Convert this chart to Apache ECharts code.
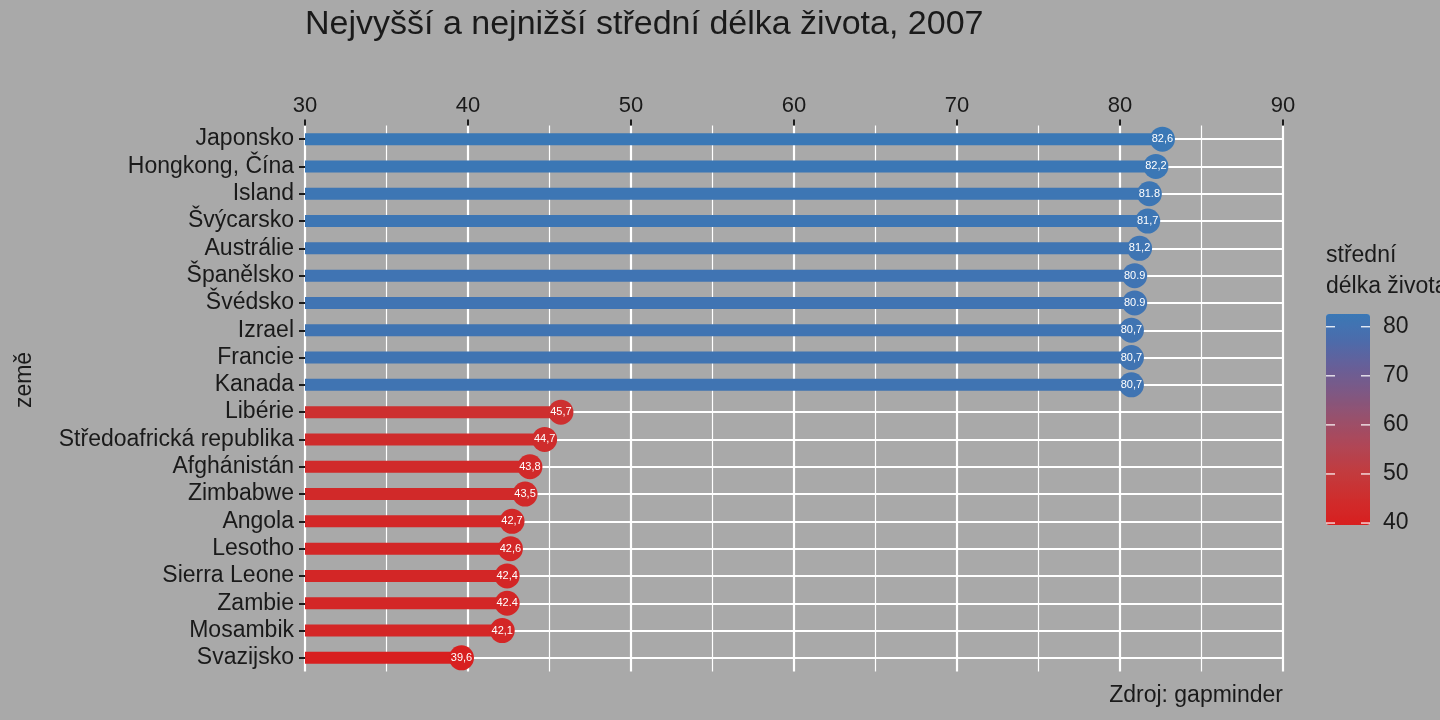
<!DOCTYPE html>
<html lang="cs">
<head>
  <meta charset="UTF-8">
  <title>Nejvyšší a nejnižší střední délka života, 2007</title>
</head>
<body>
<div id="chart"></div>
<style>
  html, body {
    margin: 0;
    width: 100%;
    height: 100%;
    background: #a9a9a9;
  }
  #chart {
    width: 1440px;
    height: 720px;
  }
</style>
<script src="https://cdn.jsdelivr.net/npm/echarts@6/dist/echarts.min.js"></script>
<script>
  // data (gapminder 2007)
  const zeme = ['Japonsko', 'Hongkong, Čína', 'Island', 'Švýcarsko', 'Austrálie', 'Španělsko',
    'Švédsko', 'Izrael', 'Francie', 'Kanada', 'Libérie', 'Středoafrická republika', 'Afghánistán',
    'Zimbabwe', 'Angola', 'Lesotho', 'Sierra Leone', 'Zambie', 'Mosambik', 'Svazijsko'];
  const delkaZivota = [82.6, 82.2, 81.8, 81.7, 81.2, 80.9, 80.9, 80.7, 80.7, 80.7,
    45.7, 44.7, 43.8, 43.5, 42.7, 42.6, 42.4, 42.4, 42.1, 39.6];
  const popisky = ['82,6', '82,2', '81.8', '81,7', '81,2', '80.9', '80.9', '80,7', '80,7', '80,7',
    '45,7', '44,7', '43,8', '43,5', '42,7', '42,6', '42,4', '42.4', '42,1', '39,6'];
  const legendaTicks = [40, 50, 60, 70, 80];

  const font = 'Liberation Sans, Arial, sans-serif';
  const ink = '#1a1a1a';
  const fs = 23;

  // legend bar geometry
  const vmMin = 39.6, vmMax = 82.6;
  const lgLeft = 1326, lgTop = 314, lgW = 44, lgH = 211;
  const lgY = v => lgTop + (vmMax - v) / (vmMax - vmMin) * lgH;

  const graphic = [{
    type: 'text', left: 1326, top: 240,
    style: { text: 'střední\ndélka života', font: fs + 'px ' + font, fill: ink, lineHeight: 31 }
  }, {
    type: 'text', x: 25, y: 380, rotation: Math.PI / 2,
    style: { text: 'země', font: fs + 'px ' + font, fill: ink, align: 'center', verticalAlign: 'middle' }
  }];
  legendaTicks.forEach(t => {
    const y = lgY(t);
    graphic.push({ type: 'line', shape: { x1: lgLeft, y1: y, x2: lgLeft + 9, y2: y }, style: { stroke: '#fff', lineWidth: 1.2 }, z: 100 });
    graphic.push({ type: 'line', shape: { x1: lgLeft + lgW - 9, y1: y, x2: lgLeft + lgW, y2: y }, style: { stroke: '#fff', lineWidth: 1.2 }, z: 100 });
    graphic.push({ type: 'text', x: 1383, y: y, style: { text: String(t), font: fs + 'px ' + font, fill: ink, verticalAlign: 'middle' } });
  });

  const chart = echarts.init(document.getElementById('chart'));
  chart.setOption({
    backgroundColor: '#a9a9a9',
    animation: false,
    title: [{
      text: 'Nejvyšší a nejnižší střední délka života, 2007',
      left: 300, top: 3,
      textStyle: { fontFamily: font, fontWeight: 'normal', fontSize: 34, color: ink }
    }, {
      text: 'Zdroj: gapminder',
      right: 152, top: 679,
      textStyle: { fontFamily: font, fontWeight: 'normal', fontSize: fs, color: ink }
    }],
    grid: { left: 305, right: 157, top: 125.5, bottom: 48.5, containLabel: false, outerBoundsMode: 'none' },
    xAxis: {
      type: 'value',
      position: 'top',
      min: 30, max: 90, interval: 10,
      axisLine: { show: false },
      axisTick: { show: true, length: 6, lineStyle: { color: ink, width: 2 } },
      axisLabel: { fontFamily: font, fontSize: 22, color: ink, margin: 9 },
      splitLine: { show: true, lineStyle: { color: '#ffffff', width: 2.2 } },
      minorTick: { show: false, splitNumber: 2 },
      minorSplitLine: { show: true, lineStyle: { color: '#ffffff', width: 1.2 } }
    },
    yAxis: {
      type: 'category',
      data: zeme,
      inverse: true,
      axisLine: { show: false },
      axisTick: { show: true, interval: 0, alignWithLabel: true, length: 6, lineStyle: { color: ink, width: 2 } },
      axisLabel: { interval: 0, fontFamily: font, fontSize: fs, color: ink, margin: 11 },
      splitLine: { show: false }
    },
    visualMap: {
      type: 'continuous',
      min: vmMin, max: vmMax,
      dimension: 0,
      seriesIndex: [0, 1],
      calculable: false,
      left: lgLeft, top: lgTop,
      itemWidth: lgW, itemHeight: lgH,
      padding: 0,
      inRange: {
        color: ['#d81f1f', '#cf2d2d', '#c23b3e', '#b04656', '#99506b',
          '#7f5883', '#675f98', '#4c6cab', '#3a78b6']
      }
    },
    graphic: graphic,
    series: [{
      type: 'bar',
      data: delkaZivota.map((v, i) => [v, zeme[i]]),
      barWidth: 12,
      z: 2,
      silent: true,
      markLine: {
        z: 1,
        silent: true,
        symbol: ['none', 'none'],
        label: { show: false },
        lineStyle: { color: '#ffffff', width: 2.2, type: 'solid' },
        data: zeme.map(z => ({ yAxis: z }))
      }
    }, {
      type: 'scatter',
      data: delkaZivota.map((v, i) => [v, zeme[i]]),
      symbolSize: 25,
      z: 3,
      itemStyle: { opacity: 1 },
      label: {
        show: true,
        position: 'inside',
        fontFamily: font,
        fontSize: 11,
        color: '#ffffff',
        formatter: p => popisky[p.dataIndex]
      }
    }]
  });
</script>
</body>
</html>
